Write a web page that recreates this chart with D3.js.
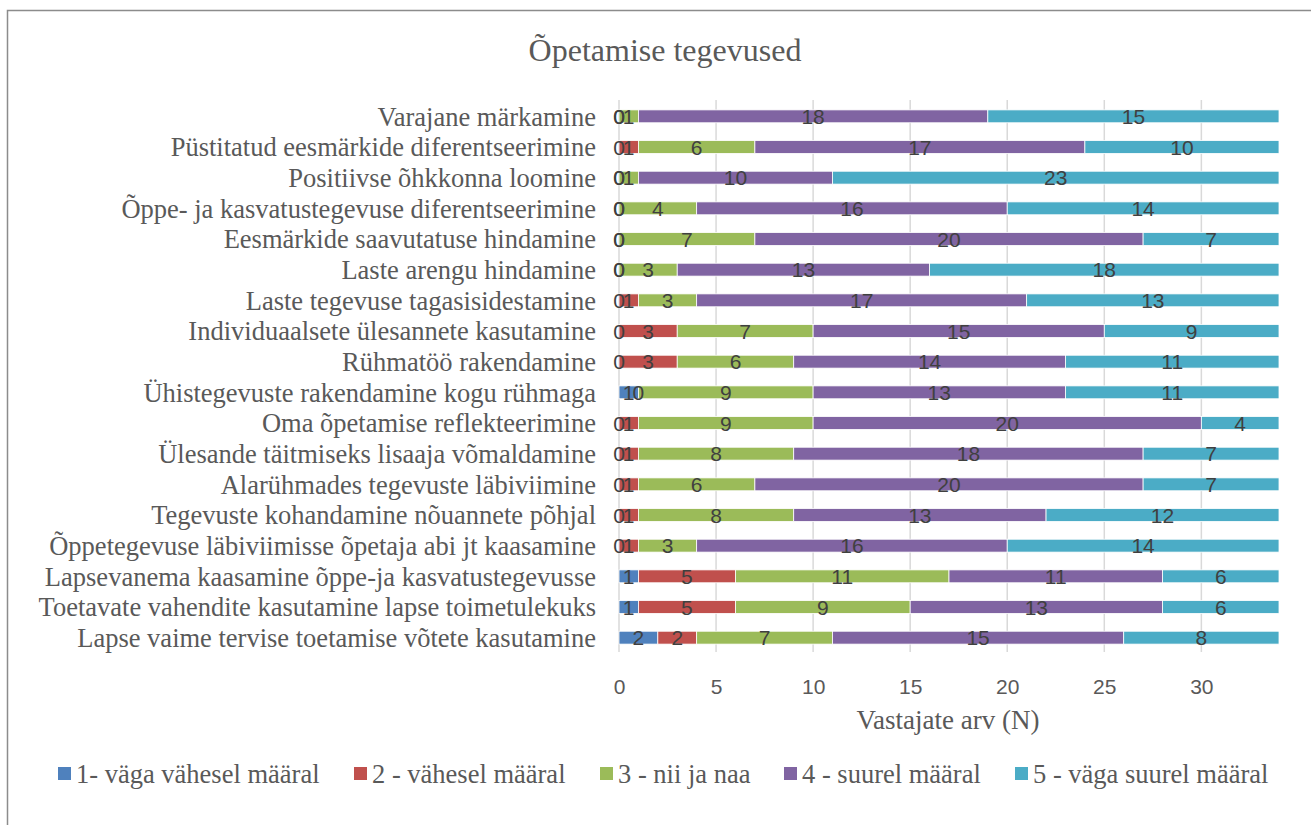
<!DOCTYPE html>
<html>
<head>
<meta charset="utf-8">
<script src="https://cdn.jsdelivr.net/npm/d3@7"></script>
<style>
    body { margin: 0; background: #fff; }
    svg { display: block; }
</style>
</head>
<body>
<svg width="1311" height="825"></svg>
<script>
const categories = [
    'Varajane märkamine',
    'Püstitatud eesmärkide diferentseerimine',
    'Positiivse õhkkonna loomine',
    'Õppe- ja kasvatustegevuse diferentseerimine',
    'Eesmärkide saavutatuse hindamine',
    'Laste arengu hindamine',
    'Laste tegevuse tagasisidestamine',
    'Individuaalsete ülesannete kasutamine',
    'Rühmatöö rakendamine',
    'Ühistegevuste rakendamine kogu rühmaga',
    'Oma õpetamise reflekteerimine',
    'Ülesande täitmiseks lisaaja võmaldamine',
    'Alarühmades tegevuste läbiviimine',
    'Tegevuste kohandamine nõuannete põhjal',
    'Õppetegevuse läbiviimisse õpetaja abi jt kaasamine',
    'Lapsevanema kaasamine õppe-ja kasvatustegevusse',
    'Toetavate vahendite kasutamine lapse toimetulekuks',
    'Lapse vaime tervise toetamise võtete kasutamine',
];

const seriesNames = [
    '1- väga vähesel määral',
    '2 - vähesel määral',
    '3 - nii ja naa',
    '4 - suurel määral',
    '5 - väga suurel määral',
];

const level1 = [0, 0, 0, 0, 0, 0, 0, 0, 0, 1, 0, 0, 0, 0, 0, 1, 1, 2];
const level2 = [0, 1, 0, 0, 0, 0, 1, 3, 3, 0, 1, 1, 1, 1, 1, 5, 5, 2];
const level3 = [1, 6, 1, 4, 7, 3, 3, 7, 6, 9, 9, 8, 6, 8, 3, 11, 9, 7];
const level4 = [18, 17, 10, 16, 20, 13, 17, 15, 14, 13, 20, 18, 20, 13, 16, 11, 13, 15];
const level5 = [15, 10, 23, 14, 7, 18, 13, 9, 11, 11, 4, 7, 7, 12, 14, 6, 6, 8];

const xTicks = [0, 5, 10, 15, 20, 25, 30];
const xMax = 34;

const colors = ['#4F81BD', '#C0504D', '#9BBB59', '#8064A2', '#4BACC6'];

const serif = '"Liberation Serif", "Times New Roman", serif';
const sans = '"Liberation Sans", Arial, sans-serif';

const svg = d3.select('svg');

// outer frame (runs off the right/bottom edge like the source)
svg.append('rect')
    .attr('x', 7.5)
    .attr('y', 10.5)
    .attr('width', 1320)
    .attr('height', 840)
    .attr('fill', 'none')
    .attr('stroke', '#8c8c8c')
    .attr('stroke-width', 1.5);

svg.append('text')
    .attr('x', 665)
    .attr('y', 61)
    .attr('text-anchor', 'middle')
    .attr('font-family', serif)
    .attr('font-size', 32)
    .attr('fill', '#595959')
    .text('Õpetamise tegevused');

const x = d3.scaleLinear()
    .domain([0, xMax])
    .range([619, 1279]);

const y = d3.scaleBand()
    .domain(categories)
    .range([101, 653])
    .paddingInner(0.58)
    .paddingOuter(0.29);

const rows = categories.map((c, i) => ({
    cat: c, v: [level1[i], level2[i], level3[i], level4[i], level5[i]],
}));

const stack = d3.stack()
    .keys(d3.range(5))
    .value((d, k) => d.v[k]);
const layers = stack(rows);

// gridlines
svg.append('g')
    .selectAll('line')
    .data(xTicks)
    .join('line')
    .attr('x1', d => x(d))
    .attr('x2', d => x(d))
    .attr('y1', 100)
    .attr('y2', 652)
    .attr('stroke', '#d9d9d9')
    .attr('stroke-width', 1.5);

// bars
svg.append('g')
    .selectAll('g')
    .data(layers)
    .join('g')
    .attr('fill', (d, i) => colors[i])
    .selectAll('rect')
    .data(d => d)
    .join('rect')
    .attr('x', d => x(d[0]))
    .attr('y', d => y(d.data.cat))
    .attr('width', d => x(d[1]) - x(d[0]))
    .attr('height', y.bandwidth())
    .attr('stroke', '#fff')
    .attr('stroke-width', 0.8);

// data labels, drawn on top of every bar so zero labels stay visible
svg.append('g')
    .selectAll('g')
    .data(layers)
    .join('g')
    .selectAll('text')
    .data(d => d)
    .join('text')
    .attr('x', d => (x(d[0]) + x(d[1])) / 2)
    .attr('y', d => y(d.data.cat) + y.bandwidth() / 2)
    .attr('dy', '0.36em')
    .attr('text-anchor', 'middle')
    .attr('font-family', sans)
    .attr('font-size', 21)
    .attr('fill', '#404040')
    .text(d => d[1] - d[0]);

// category axis
const yAxis = svg.append('g')
    .attr('transform', 'translate(609,0)')
    .call(d3.axisLeft(y).tickSize(0).tickPadding(13));
yAxis.select('.domain').remove();
yAxis.selectAll('text')
    .attr('font-family', serif)
    .attr('font-size', 26.5)
    .attr('fill', '#595959')
    .attr('dy', '0.35em');

// value axis
const xAxis = svg.append('g')
    .attr('transform', 'translate(0,652)')
    .call(d3.axisBottom(x).tickValues(xTicks).tickSize(0).tickPadding(27));
xAxis.select('.domain').remove();
xAxis.selectAll('text')
    .attr('font-family', sans)
    .attr('font-size', 21)
    .attr('fill', '#595959');

svg.append('text')
    .attr('x', 948)
    .attr('y', 729)
    .attr('text-anchor', 'middle')
    .attr('font-family', serif)
    .attr('font-size', 27)
    .attr('fill', '#595959')
    .text('Vastajate arv (N)');

// legend
const legendX = [58, 354, 600, 784, 1015];
const legend = svg.append('g')
    .selectAll('g')
    .data(seriesNames)
    .join('g')
    .attr('transform', (d, i) => `translate(${legendX[i]},774)`);

legend.append('rect')
    .attr('x', 0)
    .attr('y', -7)
    .attr('width', 13)
    .attr('height', 13)
    .attr('fill', (d, i) => colors[i]);

legend.append('text')
    .attr('x', 18)
    .attr('y', 0)
    .attr('dy', '0.35em')
    .attr('font-family', serif)
    .attr('font-size', 26.5)
    .attr('fill', '#595959')
    .text(d => d);
</script>
</body>
</html>
